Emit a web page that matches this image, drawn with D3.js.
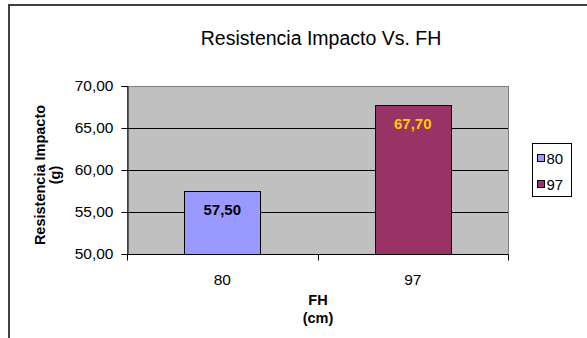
<!DOCTYPE html>
<html>
<head>
<meta charset="utf-8">
<script src="https://cdn.jsdelivr.net/npm/d3@7"></script>
<style>
  html, body { margin: 0; padding: 0; background: #fff; }
  svg { display: block; font-family: "Liberation Sans", Arial, sans-serif; }
</style>
</head>
<body>
<svg id="chart" width="587" height="338"></svg>
<script>
// bar chart: Resistencia Impacto vs FH, two categories
const categories = ['80', '97'];
const values = [57.5, 67.7];
const yTicks = [50, 55, 60, 65, 70];

const BAR_COLOR = { '80': '#9999FF', '97': '#993366' };
const LABEL_COLOR = { '80': '#000000', '97': '#FFCC00' };

const W = 587, H = 338;
const plot = { left: 127, top: 86, right: 508, bottom: 254 };
const FONT = '"Liberation Sans", Arial, sans-serif';

const svg = d3.select('#chart');

// outer chart border (continues off the right/bottom edge)
svg.append('rect')
    .attr('x', 9).attr('y', 5)
    .attr('width', W + 20).attr('height', H + 20)
    .attr('fill', '#fff')
    .attr('stroke', '#404040').attr('stroke-width', 2);

// ── Scales ──────────────────────────────────────────────────────────────
const x = d3.scaleBand()
    .domain(categories)
    .range([plot.left, plot.right])
    .paddingInner(0.6).paddingOuter(0.3);

const y = d3.scaleLinear()
    .domain([50, 70])
    .range([plot.bottom, plot.top]);

// plot area
svg.append('rect')
    .attr('x', plot.left + 0.5).attr('y', plot.top + 0.5)
    .attr('width', plot.right - plot.left).attr('height', plot.bottom - plot.top)
    .attr('fill', '#C0C0C0')
    .attr('stroke', '#808080').attr('stroke-width', 1);

// gridlines
svg.append('g')
    .selectAll('line')
    .data(yTicks.filter(t => t > 50 && t < 70))
    .join('line')
    .attr('x1', plot.left).attr('x2', plot.right)
    .attr('y1', d => Math.round(y(d)) + 0.5).attr('y2', d => Math.round(y(d)) + 0.5)
    .attr('stroke', '#000').attr('stroke-width', 1);

const rows = categories.map((c, i) => ({ c, v: values[i] }));

// bars
svg.append('g')
    .selectAll('rect')
    .data(rows)
    .join('rect')
    .attr('x', d => Math.round(x(d.c)) + 0.5)
    .attr('y', d => Math.round(y(d.v)) + 0.5)
    .attr('width', Math.round(x.bandwidth()))
    .attr('height', d => Math.round(y(50) - y(d.v)))
    .attr('fill', d => BAR_COLOR[d.c])
    .attr('stroke', '#000').attr('stroke-width', 1);

// data labels
svg.append('g')
    .selectAll('text')
    .data(rows)
    .join('text')
    .attr('x', d => x(d.c) + x.bandwidth() / 2)
    .attr('y', d => y(d.v) + 24)
    .attr('text-anchor', 'middle')
    .attr('font-size', '15px').attr('font-weight', 'bold')
    .attr('fill', d => LABEL_COLOR[d.c])
    .text(d => d.v.toFixed(2).replace('.', ','));

// ── Axes ────────────────────────────────────────────────────────────────
const yAxis = d3.axisLeft(y)
    .tickValues(yTicks)
    .tickSize(6).tickPadding(8)
    .tickFormat(d => d.toFixed(2).replace('.', ','));

svg.append('g')
    .attr('transform', `translate(${plot.left + 0.5},0)`)
    .call(yAxis)
    .call(g => g.selectAll('text').attr('font-size', '15.5px').attr('fill', '#000')
        .attr('font-family', FONT))
    .call(g => g.selectAll('line,path').attr('stroke', '#000'));

const xAxis = d3.axisBottom(x).tickSize(0).tickPadding(19);
const xg = svg.append('g')
    .attr('transform', `translate(0,${plot.bottom + 0.5})`)
    .call(xAxis)
    .call(g => g.select('.domain').remove())
    .call(g => g.selectAll('text').attr('font-size', '15.5px').attr('fill', '#000')
        .attr('font-family', FONT));

xg.append('line')
    .attr('x1', plot.left).attr('x2', plot.right)
    .attr('stroke', '#000');
// category separator ticks
const sepTicks = [plot.left, (plot.left + plot.right) / 2, plot.right];
xg.selectAll('.sep')
    .data(sepTicks)
    .join('line')
    .attr('class', 'sep')
    .attr('x1', d => Math.round(d) + 0.5).attr('x2', d => Math.round(d) + 0.5)
    .attr('y1', 0).attr('y2', 6)
    .attr('stroke', '#000');

// ── Titles ──────────────────────────────────────────────────────────────
svg.append('text')
    .attr('x', 321).attr('y', 45)
    .attr('text-anchor', 'middle')
    .attr('font-size', '19.5px')
    .attr('fill', '#000')
    .text('Resistencia Impacto Vs. FH');

const yTitle = svg.append('text')
    .attr('transform', 'translate(45,175) rotate(-90)')
    .attr('text-anchor', 'middle')
    .attr('font-size', '14.5px').attr('font-weight', 'bold')
    .attr('fill', '#000');
yTitle.append('tspan').attr('x', 0).attr('dy', 0).text('Resistencia Impacto');
yTitle.append('tspan').attr('x', 0).attr('dy', 15).text('(g)');

svg.append('text')
    .attr('x', 318).attr('y', 305)
    .attr('text-anchor', 'middle')
    .attr('font-size', '14.5px').attr('font-weight', 'bold')
    .text('FH');
svg.append('text')
    .attr('x', 318).attr('y', 323)
    .attr('text-anchor', 'middle')
    .attr('font-size', '14.5px').attr('font-weight', 'bold')
    .text('(cm)');

// ── Legend ──────────────────────────────────────────────────────────────
const legend = svg.append('g').attr('transform', 'translate(532.5,143.5)');
legend.append('rect')
    .attr('width', 39).attr('height', 53)
    .attr('fill', '#fff').attr('stroke', '#000');
categories.forEach((c, i) => {
    const cy = 15 + i * 26;
    legend.append('rect')
        .attr('x', 5).attr('y', cy - 4)
        .attr('width', 7).attr('height', 7)
        .attr('fill', BAR_COLOR[c]).attr('stroke', '#000');
    legend.append('text')
        .attr('x', 14).attr('y', cy + 5.5)
        .attr('font-size', '15px')
        .text(c);
});
</script>
</body>
</html>
